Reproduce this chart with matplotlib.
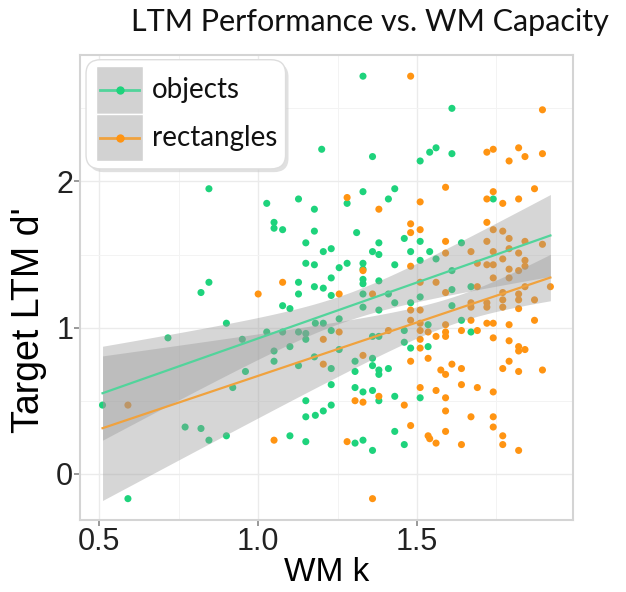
import numpy as np
import matplotlib
matplotlib.use("Agg")
import matplotlib.pyplot as plt
from matplotlib.patches import FancyBboxPatch, Rectangle
from matplotlib.lines import Line2D

# data (WM k, target LTM d')
obj_x = [0.845, 0.845, 0.82, 0.90, 0.716, 0.95, 0.96, 0.92, 0.51, 0.77, 0.82, 0.845, 0.90, 0.59,
         1.33, 1.20, 1.36, 1.33, 1.43, 1.41, 1.127, 1.027, 1.177, 1.28, 1.05, 1.05, 1.077, 1.177,
         1.31, 1.15, 1.38, 1.46, 1.23, 1.205, 1.36, 1.38, 1.48, 1.15, 1.177, 1.28, 1.255, 1.33,
         1.33, 1.43, 1.127, 1.23, 1.33, 1.33, 1.177, 1.205, 1.38,
         1.61, 1.51, 1.54, 1.56, 1.61, 1.74, 1.51, 1.64, 1.54, 1.51, 1.56, 1.61, 1.67, 1.61,
         1.127, 1.23, 1.33, 1.41, 1.43, 1.48, 1.077, 1.10, 1.33, 1.38, 1.255, 1.18, 1.205,
         1.027, 1.077, 1.127, 1.15, 1.15, 1.23, 1.36, 1.38, 1.46, 1.46, 1.48, 1.05, 1.10,
         1.255, 1.177, 1.305, 1.305, 1.36, 1.36, 1.38, 1.38, 1.41, 1.05, 1.127, 1.23, 1.23,
         1.305, 1.33, 1.36, 1.38, 1.43, 1.15, 1.23, 1.205, 1.18, 1.15, 1.43, 1.10, 1.15,
         1.305, 1.33, 1.36, 1.46,
         1.51, 1.535, 1.64, 1.67, 1.535, 1.51, 1.61]
obj_y = [1.95, 1.31, 1.24, 1.03, 0.93, 0.92, 0.70, 0.59, 0.47, 0.32, 0.31, 0.23, 0.26, -0.17,
         2.72, 2.22, 2.17, 1.93, 1.95, 1.88, 1.88, 1.85, 1.81, 1.85, 1.72, 1.68, 1.67, 1.66,
         1.65, 1.58, 1.58, 1.61, 1.54, 1.52, 1.52, 1.50, 1.52, 1.44, 1.43, 1.44, 1.41, 1.44,
         1.40, 1.43, 1.31, 1.34, 1.33, 1.30, 1.28, 1.27, 1.32,
         2.50, 2.14, 2.20, 2.23, 2.19, 1.88, 1.59, 1.58, 1.52, 1.46, 1.47, 1.39, 1.28, 1.26,
         1.23, 1.22, 1.23, 1.23, 1.17, 1.17, 1.15, 1.13, 1.14, 1.12, 1.06, 1.03, 1.03,
         0.97, 0.97, 0.97, 0.96, 0.92, 0.98, 0.94, 0.94, 0.98, 0.90, 0.86, 0.84, 0.87,
         0.85, 0.80, 0.77, 0.70, 0.79, 0.74, 0.71, 0.68, 0.72, 0.77, 0.74, 0.72, 0.61,
         0.59, 0.56, 0.57, 0.50, 0.53, 0.50, 0.47, 0.43, 0.40, 0.39, 0.29, 0.26, 0.22,
         0.21, 0.23, 0.16, 0.20,
         1.21, 1.02, 1.05, 0.97, 0.87, 0.52, 1.15]

rect_x = [0.59, 1.0, 1.077, 1.48, 1.28, 1.38, 1.48, 1.48, 1.33, 1.48,
          1.895, 1.72, 1.74, 1.82, 1.79, 1.84, 1.895, 1.59, 1.51, 1.72, 1.74, 1.77, 1.82, 1.87,
          1.72, 1.51, 1.59, 1.74, 1.77, 1.79, 1.84, 1.895, 1.72, 1.59, 1.67, 1.74, 1.79, 1.82,
          1.69, 1.72, 1.74, 1.77, 1.84, 1.84, 1.82, 1.74, 1.79, 1.51, 1.56, 1.69, 1.84, 1.92,
          1.255, 1.36, 1.255, 1.205, 1.41, 1.33, 1.205, 1.48, 1.38, 1.305, 1.33, 1.46, 1.48,
          1.05, 1.28, 1.36,
          1.59, 1.77, 1.77, 1.82, 1.82, 1.82, 1.87, 1.48, 1.51, 1.67, 1.67, 1.72, 1.72, 1.77,
          1.48, 1.51, 1.59, 1.67, 1.72, 1.74, 1.79, 1.87, 1.51, 1.535, 1.56, 1.59, 1.59, 1.64,
          1.69, 1.74, 1.79, 1.82, 1.82, 1.84, 1.51, 1.535, 1.79, 1.575, 1.59, 1.61, 1.64, 1.77,
          1.82, 1.895, 1.51, 1.56, 1.59, 1.64, 1.69, 1.74, 1.59, 1.67, 1.74, 1.74, 1.59, 1.535,
          1.54, 1.56, 1.64, 1.77, 1.77, 1.82, 1.79, 1.51]
rect_y = [0.47, 1.23, 1.31, 2.72, 1.89, 1.81, 1.71, 1.65, 1.39, 1.42,
          2.49, 2.20, 2.22, 2.23, 2.14, 2.17, 2.19, 1.96, 1.86, 1.88, 1.93, 1.85, 1.88, 1.95,
          1.72, 1.67, 1.59, 1.67, 1.66, 1.61, 1.59, 1.57, 1.59, 1.51, 1.52, 1.52, 1.54, 1.51,
          1.44, 1.43, 1.43, 1.47, 1.46, 1.42, 1.39, 1.34, 1.34, 1.31, 1.31, 1.28, 1.28, 1.28,
          1.23, 1.23, 0.97, 0.92, 0.98, 0.81, 0.75, 0.77, 0.53, 0.50, 0.49, 0.47, 0.33,
          0.23, 0.22, -0.17,
          1.24, 1.24, 1.19, 1.23, 1.19, 1.13, 1.19, 1.12, 1.12, 1.17, 1.14, 1.17, 1.14, 1.14,
          1.05, 1.03, 1.02, 1.05, 1.03, 1.03, 1.02, 1.05, 0.92, 0.97, 0.94, 0.97, 0.94, 0.98,
          0.98, 0.93, 0.91, 0.87, 0.84, 0.85, 0.86, 0.79, 0.77, 0.71, 0.68, 0.75, 0.72, 0.72,
          0.70, 0.71, 0.59, 0.57, 0.52, 0.61, 0.59, 0.56, 0.43, 0.39, 0.39, 0.32, 0.29, 0.26,
          0.24, 0.21, 0.20, 0.26, 0.20, 0.16, 1.40, 0.98]

groups = ["objects", "rectangles"]
point_colors = ["#1ed37c", "#ff9412"]
line_colors = ["#52d49b", "#f0a23e"]

plt.rcParams['font.family'] = ['Liberation Sans', 'DejaVu Sans']

fig = plt.figure(figsize=(6.26, 5.92), dpi=100)
ax = fig.add_axes([0.128, 0.122, 0.787, 0.785])

all_x = np.array(obj_x + rect_x)
all_y = np.array(obj_y + rect_y)
xr = all_x.max() - all_x.min()
yr = all_y.max() - all_y.min()
ax.set_xlim(all_x.min() - 0.05 * xr, all_x.max() + 0.05 * xr)
ax.set_ylim(all_y.min() - 0.05 * yr, all_y.max() + 0.05 * yr)

for xs, ys, c in [(obj_x, obj_y, point_colors[0]), (rect_x, rect_y, point_colors[1])]:
    ax.scatter(xs, ys, s=26, color=c, edgecolors="none", zorder=3)

# lm smooth with 95% band over full x range (like geom_smooth(method=lm, fullrange=TRUE))
grid = np.linspace(all_x.min(), all_x.max(), 100)
for xs, ys, lc in [(obj_x, obj_y, line_colors[0]), (rect_x, rect_y, line_colors[1])]:
    xs = np.array(xs); ys = np.array(ys)
    n = len(xs)
    b, a = np.polyfit(xs, ys, 1)
    fit = a + b * grid
    resid = ys - (a + b * xs)
    s = np.sqrt(np.sum(resid ** 2) / (n - 2))
    se = s * np.sqrt(1.0 / n + (grid - xs.mean()) ** 2 / np.sum((xs - xs.mean()) ** 2))
    ax.fill_between(grid, fit - 1.98 * se, fit + 1.98 * se, color="#999999", alpha=0.4,
                    linewidth=0, zorder=4)
    ax.plot(grid, fit, color=lc, lw=1.6, zorder=5)

ax.set_xticks([0.5, 1.0, 1.5])
ax.set_xticklabels(["0.5", "1.0", "1.5"])
ax.set_yticks([0, 1, 2])
ax.set_xticks([0.75, 1.25, 1.75], minor=True)
ax.set_yticks([0.5, 1.5, 2.5], minor=True)
ax.grid(which="major", color="#ebebeb", lw=1.0, zorder=0)
ax.grid(which="minor", color="#f3f3f3", lw=0.7, zorder=0)
ax.set_axisbelow(True)
ax.tick_params(which="major", length=4, width=1.2, color="#888888", labelsize=22,
               labelcolor="#222222", pad=1)
ax.tick_params(which="minor", length=0)
for sp in ax.spines.values():
    sp.set_color("#d4d4d4")
    sp.set_linewidth(1.5)

ax.set_xlabel("WM k", fontsize=24, labelpad=0)
ax.set_ylabel("Target LTM d'", fontsize=27)
ax.yaxis.set_label_coords(-0.068, 0.43)

fig.text(0.591, 0.962, "LTM Performance vs. WM Capacity", family="Lato", fontsize=22,
         ha="center", va="center", color="#111111")

# legend box drawn like the ggplot one
tr = ax.transAxes
shadow = FancyBboxPatch((0.018, 0.748), 0.405, 0.235, boxstyle="round,pad=0,rounding_size=0.03",
                        transform=tr, facecolor="#cccccc", edgecolor="none", zorder=6, alpha=0.6)
box = FancyBboxPatch((0.012, 0.755), 0.405, 0.235, boxstyle="round,pad=0,rounding_size=0.03",
                     transform=tr, facecolor="white", edgecolor="#dddddd", lw=1, zorder=7)
ax.add_patch(shadow)
ax.add_patch(box)
for i, (lab, pc, lc) in enumerate(zip(groups, point_colors, line_colors)):
    y0 = 0.874 - i * 0.103
    ax.add_patch(Rectangle((0.033, y0), 0.095, 0.103, transform=tr, facecolor="#d2d2d2",
                           edgecolor="white", lw=1, zorder=8))
    yc = y0 + 0.0515
    ax.add_line(Line2D([0.041, 0.120], [yc, yc], transform=tr, color=lc, lw=2, zorder=9))
    ax.add_line(Line2D([0.0805], [yc], transform=tr, marker="o", ms=6, color=pc, mec="none",
                       zorder=10))
    ax.text(0.145, yc, lab, transform=tr, family="Lato", fontsize=20, va="center",
            ha="left", color="#111111", zorder=10)

fig.savefig("out.png", dpi=100)
